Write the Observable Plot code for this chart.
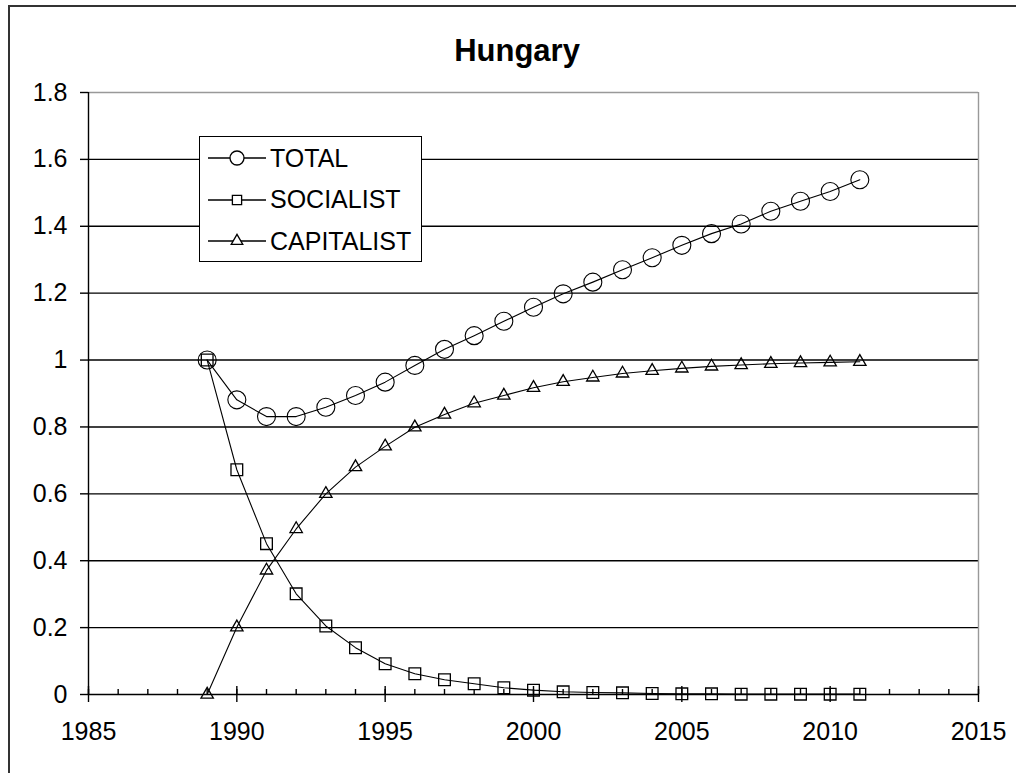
<!DOCTYPE html>
<html>
<head>
<meta charset="utf-8">
<script src="https://cdn.jsdelivr.net/npm/d3@7"></script>
<script src="https://cdn.jsdelivr.net/npm/@observablehq/plot@0.6"></script>
<style>
  html, body { margin: 0; padding: 0; background: #fff; }
  #wrap { position: relative; width: 1016px; height: 773px; overflow: hidden; font-family: "Liberation Sans", Arial, sans-serif; }
  #frame { position: absolute; left: 8px; top: 5px; width: 1100px; height: 900px; border-left: 2px solid #333; border-top: 2px solid #333; }
  #title { position: absolute; left: 0; width: 1034px; top: 33px; text-align: center; font-weight: bold; font-size: 31px; color: #000; }
  #chart { position: absolute; left: 0; top: 0; }
  #legend { position: absolute; left: 199px; top: 136px; width: 221px; height: 124px; border: 1.5px solid #000; background: #fff; }
  .row { position: absolute; left: 0; height: 40px; display: flex; align-items: center; }
  .row svg { margin-left: 8px; }
  .row span { margin-left: 4px; font-size: 25px; color: #000; }
</style>
</head>
<body>
<div id="wrap">
  <div id="frame"></div>
  <div id="chart"></div>
  <div id="title">Hungary</div>
  <div id="legend"></div>
</div>
<script>
const years = [1989,1990,1991,1992,1993,1994,1995,1996,1997,1998,1999,2000,2001,2002,2003,2004,2005,2006,2007,2008,2009,2010,2011];
const total = [1.000,0.881,0.831,0.831,0.859,0.894,0.934,0.984,1.032,1.073,1.116,1.158,1.198,1.233,1.270,1.306,1.343,1.378,1.407,1.445,1.475,1.504,1.539];
const socialist = [1.000,0.672,0.451,0.301,0.205,0.140,0.092,0.062,0.044,0.032,0.020,0.013,0.008,0.006,0.005,0.003,0.002,0.002,0.001,0.001,0.001,0.001,0.001];
const capitalist = [0.000,0.201,0.371,0.495,0.600,0.680,0.742,0.799,0.837,0.871,0.894,0.917,0.935,0.948,0.960,0.968,0.975,0.981,0.985,0.989,0.991,0.993,0.995];
const seriesNames = ["TOTAL","SOCIALIST","CAPITALIST"];
const xTicks = [1985,1990,1995,2000,2005,2010,2015];
const xMinorTicks = d3.range(1985, 2016);
const yTicks = [0,0.2,0.4,0.6,0.8,1,1.2,1.4,1.6,1.8];
const yTickLabels = ["0","0.2","0.4","0.6","0.8","1","1.2","1.4","1.6","1.8"];

const rows = [];
years.forEach((yr, i) => {
  rows.push({year: yr, value: total[i], series: "TOTAL"});
  rows.push({year: yr, value: socialist[i], series: "SOCIALIST"});
  rows.push({year: yr, value: capitalist[i], series: "CAPITALIST"});
});
const bySeries = s => rows.filter(d => d.series === s);

const font = "Liberation Sans, Arial, sans-serif";
const plot = Plot.plot({
  width: 1016,
  height: 773,
  marginLeft: 88,
  marginRight: 38,
  marginTop: 92,
  marginBottom: 79,
  style: {fontFamily: font, fontSize: "25px", color: "#000", background: "transparent", overflow: "visible"},
  x: {domain: [1985, 2015], axis: null},
  y: {domain: [0, 1.8], axis: null},
  marks: [
    Plot.ruleY(yTicks.filter(v => v > 0 && v < 1.8), {stroke: "#000", strokeWidth: 1.4}),
    Plot.ruleY([1.8], {stroke: "#999", strokeWidth: 1.4}),
    Plot.ruleX([2015], {stroke: "#999", strokeWidth: 1.4}),
    Plot.axisY({ticks: yTicks, tickSize: 8, tickPadding: 13, tickFormat: (d, i) => yTickLabels[i], label: null, stroke: "#000", strokeWidth: 1.4, fontSize: 25}),
    Plot.axisX({ticks: xMinorTicks, tickSize: 5, dy: -5, tickFormat: () => "", label: null, stroke: "#000", strokeWidth: 1.4}),
    Plot.axisX({ticks: xTicks, tickSize: 16, dy: -8, tickFormat: () => "", label: null, stroke: "#000", strokeWidth: 1.4}),
    Plot.axisX({ticks: xTicks, tickSize: 0, tickPadding: 28, tickFormat: d => String(d), label: null, fontSize: 25}),
    Plot.ruleX([1985], {stroke: "#000", strokeWidth: 1.4}),
    Plot.ruleY([0], {stroke: "#000", strokeWidth: 1.4}),
    Plot.line(rows, {x: "year", y: "value", z: "series", stroke: "#000", strokeWidth: 1.1}),
    Plot.dot(bySeries("TOTAL"), {x: "year", y: "value", symbol: "circle", r: 9, stroke: "#000", strokeWidth: 1.1, fill: "none"}),
    Plot.dot(bySeries("SOCIALIST"), {x: "year", y: "value", symbol: "square", r: 6.6, stroke: "#000", strokeWidth: 1.3, fill: "none"}),
    Plot.dot(bySeries("CAPITALIST"), {x: "year", y: "value", symbol: "triangle", r: 4.6, stroke: "#000", strokeWidth: 1.3, fill: "none"})
  ]
});
document.getElementById("chart").appendChild(plot);

// legend
const legend = document.getElementById("legend");
const symbolPaths = {
  TOTAL: d3.symbol(d3.symbolCircle, Math.PI * 7 * 7)(),
  SOCIALIST: d3.symbol(d3.symbolSquare, Math.PI * 5.2 * 5.2)(),
  CAPITALIST: d3.symbol(d3.symbolTriangle, Math.PI * 4.3 * 4.3)()
};
seriesNames.forEach((name, i) => {
  const row = document.createElement("div");
  row.className = "row";
  row.style.top = (i * 41.5 + 1) + "px";
  row.innerHTML = `<svg width="58" height="40"><line x1="0" x2="58" y1="20" y2="20" stroke="#000" stroke-width="1.3"/><path d="${symbolPaths[name]}" transform="translate(29,20)" fill="#fff" stroke="#000" stroke-width="1.3"/></svg><span>${name}</span>`;
  legend.appendChild(row);
});
</script>
</body>
</html>
